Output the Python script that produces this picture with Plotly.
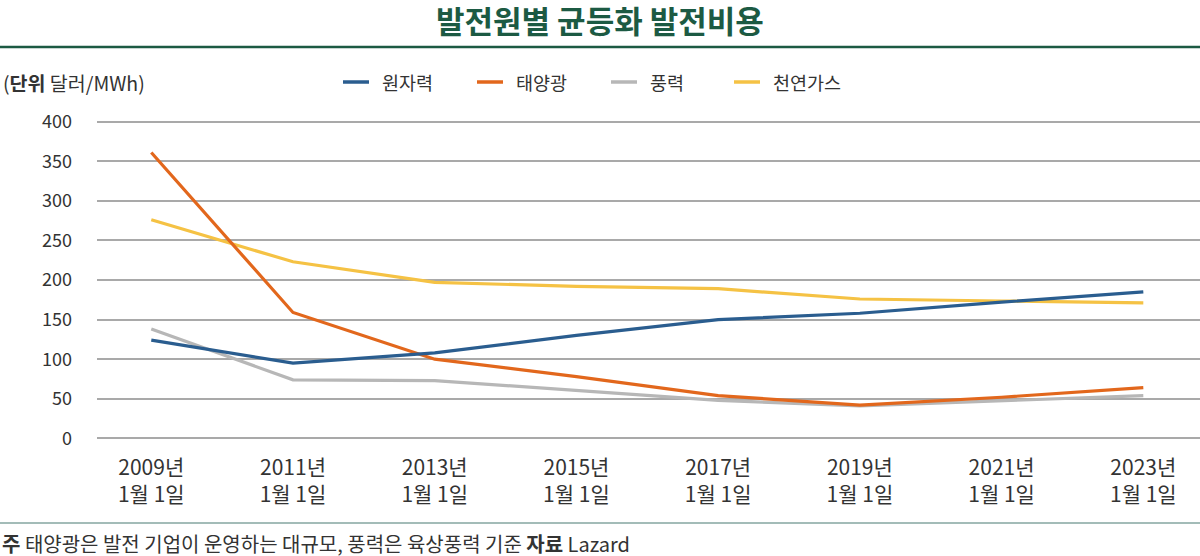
import plotly.graph_objects as go

# ---- data ----
years = ["2009년", "2011년", "2013년", "2015년", "2017년", "2019년", "2021년", "2023년"]
date_suffix = "1월 1일"
x_labels = [f"{y}<br>{date_suffix}" for y in years]

series_names = ["원자력", "태양광", "풍력", "천연가스"]
nuclear = [124, 95, 108, 130, 150, 158, 172, 185]
solar = [361, 159, 100, 78, 54, 42, 52, 64]
wind = [138, 74, 73, 61, 48, 41, 47, 54]
gas = [276, 223, 197, 192, 189, 176, 173.5, 171]
y_ticks = [0, 50, 100, 150, 200, 250, 300, 350, 400]

title_text = "발전원별 균등화 발전비용"
unit_text = "(<b>단위</b> 달러/MWh)"
footer_text = "<b>주</b> 태양광은 발전 기업이 운영하는 대규모, 풍력은 육상풍력 기준 <b>자료</b> Lazard"

colors = ["#2a5d8f", "#e2671c", "#b7b7b7", "#f5c244"]
FONT = "Noto Sans CJK KR"
TXT = "#333333"

W, H = 1200, 556
ML, MR, MT, MB = 97, 0, 120, 116
PW, PH = W - ML - MR, H - MT - MB


def px_x(px):
    return (px - ML) / PW


def px_y(py):
    return (H - MB - py) / PH


fig = go.Figure()
order = [3, 2, 1, 0]  # yellow drawn first, blue on top
all_vals = [nuclear, solar, wind, gas]
for i in order:
    fig.add_trace(go.Scatter(
        x=x_labels, y=all_vals[i], mode="lines", name=series_names[i],
        line=dict(color=colors[i], width=3.2), showlegend=False,
    ))

fig.update_layout(
    width=W, height=H,
    margin=dict(l=ML, r=MR, t=MT, b=MB),
    paper_bgcolor="white", plot_bgcolor="white",
    font=dict(family=FONT, color=TXT),
    xaxis=dict(
        type="category", range=[-0.383, 7.4], showgrid=False, zeroline=False,
        showline=False, ticks="", tickfont=dict(size=21, color=TXT, family=FONT),
        ticklabelstandoff=13,
    ),
    yaxis=dict(
        range=[-2, 402], tickvals=y_ticks, showgrid=True, gridcolor="#a9a9a9",
        gridwidth=1.5, zeroline=False, showline=False, ticks="",
        tickfont=dict(size=18, color=TXT, family=FONT), ticklabelstandoff=24,
    ),
)

shapes = []
annotations = []

# title & top rule
annotations.append(dict(
    text=f"<b>{title_text}</b>", xref="paper", yref="paper",
    x=px_x(600), y=px_y(19.5), xanchor="center", yanchor="middle",
    showarrow=False, borderpad=0, font=dict(size=31, color="#1c5a43", family=FONT),
))
shapes.append(dict(type="line", xref="paper", yref="paper",
                   x0=px_x(0), x1=px_x(1200), y0=px_y(47), y1=px_y(47),
                   line=dict(color="#1c5a43", width=2.5)))

# unit label
annotations.append(dict(
    text=unit_text, xref="paper", yref="paper", x=px_x(1), y=px_y(82),
    xanchor="left", yanchor="middle", showarrow=False,
    font=dict(size=19.5, color=TXT, family=FONT),
))

# legend (manual)
legend_x = [343, 477, 611, 734]
for name, col, lx in zip(series_names, colors, legend_x):
    shapes.append(dict(type="line", xref="paper", yref="paper",
                       x0=px_x(lx), x1=px_x(lx + 26), y0=px_y(82), y1=px_y(82),
                       line=dict(color=col, width=3.5)))
    annotations.append(dict(
        text=name, xref="paper", yref="paper", x=px_x(lx + 37), y=px_y(82),
        xanchor="left", yanchor="middle", showarrow=False,
        font=dict(size=18.5, color=TXT, family=FONT),
    ))

# footer
shapes.append(dict(type="line", xref="paper", yref="paper",
                   x0=px_x(0), x1=px_x(1200), y0=px_y(523), y1=px_y(523),
                   line=dict(color="#a3bcb8", width=2)))
annotations.append(dict(
    text=footer_text, xref="paper", yref="paper", x=px_x(1), y=px_y(543.5),
    xanchor="left", yanchor="middle", showarrow=False, borderpad=0,
    font=dict(size=20, color=TXT, family=FONT),
))

fig.update_layout(shapes=shapes, annotations=annotations)
fig.write_html("out.html", config={"displayModeBar": False},
               post_script="document.body.style.margin='0px';")
